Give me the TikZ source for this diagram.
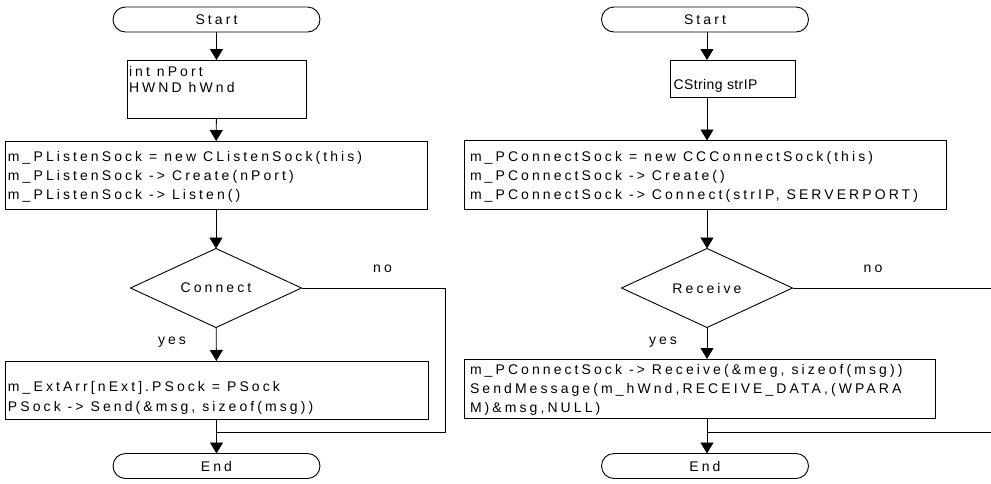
\documentclass[tikz,border=0pt]{standalone}
\usepackage{fontspec}
\setmainfont{Liberation Sans}[LetterSpace=22]
\newfontfamily\tightfont{Liberation Sans}[LetterSpace=3]
\usetikzlibrary{arrows.meta,shapes.geometric}

\tikzset{
  every node/.style={inner sep=0pt, outer sep=0pt},
  flow/.style={line width=0.9pt, draw=black},
  arr/.style={flow, -{Triangle[width=13pt,length=11pt]}},
  term/.style={flow, rectangle, rounded corners=12.5pt, minimum width=207pt, minimum height=25pt},
  procbox/.style={flow, rectangle},
  decision/.style={flow, diamond, aspect=2.18, minimum width=171pt, minimum height=79pt},
  code/.style={anchor=north west, align=left, font=\fontsize{14pt}{19pt}\selectfont},
  lbl/.style={font=\fontsize{14pt}{16pt}\selectfont}
}

\begin{document}
\begin{tikzpicture}[x=1pt,y=-1pt]
\useasboundingbox (0,0) rectangle (991,483);

% ---------- server side ----------
\node[term, lbl] (sStart) at (216.5,19.5) {Start};
\node[procbox, minimum width=179pt, minimum height=58pt] (sVars) at (216.5,89) {};
\node[code, font=\fontsize{14pt}{16pt}\selectfont] (sVarsTxt) at (129,66) {int nPort\\HWND hWnd};
\node[procbox, minimum width=422pt, minimum height=68pt] (sInit) at (216,175) {};
\node[code] (sInitTxt) at (8,151) {m\_PListenSock = new CListenSock(this)\\m\_PListenSock -> Create(nPort)\\m\_PListenSock -> Listen()};
\node[decision, lbl] (sTest) at (216,288) {Connect};
\node[procbox, minimum width=423pt, minimum height=58pt] (sSend) at (216.5,390) {};
\node[code, font=\fontsize{14pt}{20pt}\selectfont] (sSendTxt) at (8,381.5) {m\_ExtArr[nExt].PSock = PSock\\PSock -> Send(\&msg, sizeof(msg))};
\node[term, lbl] (sEnd) at (216.5,466) {End};

\node[lbl] (sNo) at (382.5,269) {no};
\node[lbl] (sYes) at (172,342) {yes};

\coordinate (sNoCorner) at (445,288);
\coordinate (sNoBottom) at (445,432);
\coordinate (sJoin) at (216.5,432);

\draw[arr] (sStart) -- (sVars);
\draw[arr] (sVars) -- (sInit);
\draw[arr] (sInit) -- (sTest);
\draw[arr] (sTest) -- (sSend);
\draw[arr] (sSend) -- (sEnd);
\draw[flow] (sTest.east) -- (sNoCorner) -- (sNoBottom) -- (sJoin);

% ---------- client side ----------
\node[term, lbl] (cStart) at (705,19.5) {Start};
\node[procbox, minimum width=125pt, minimum height=37pt] (cVars) at (732.5,78.5) {};
\node[code, font=\fontsize{14pt}{19pt}\tightfont] (cVarsTxt) at (673.5,79.5) {CString strIP};
\node[procbox, minimum width=482pt, minimum height=69pt] (cInit) at (705,175) {};
\node[code] (cInitTxt) at (470,151) {m\_PConnectSock = new CCConnectSock(this)\\m\_PConnectSock -> Create()\\m\_PConnectSock -> Connect(strIP, SERVERPORT)};
\node[decision, lbl] (cTest) at (707,288) {Receive};
\node[procbox, minimum width=471pt, minimum height=59pt] (cRecv) at (699.5,388.5) {};
\node[code] (cRecvTxt) at (470,364.5) {m\_PConnectSock -> Receive(\&meg, sizeof(msg))\\SendMessage(m\_hWnd,RECEIVE\_DATA,(WPARA\\M)\&msg,NULL)};
\node[term, lbl] (cEnd) at (705,466) {End};

\node[lbl] (cNo) at (873,269) {no};
\node[lbl] (cYes) at (663,342) {yes};

\coordinate (cNoEdge) at (991,288);
\coordinate (cJoinEdge) at (991,432);
\coordinate (cJoin) at (707,432);

\draw[arr] (cStart.south -| cTest) -- (cVars.north -| cTest);
\draw[arr] (cVars.south -| cTest) -- (cInit.north -| cTest);
\draw[arr] (cInit.south -| cTest) -- (cTest.north);
\draw[arr] (cTest.south) -- (cRecv.north -| cTest);
\draw[arr] (cRecv.south -| cTest) -- (cEnd.north -| cTest);
\draw[flow] (cTest.east) -- (cNoEdge);
\draw[flow] (cJoinEdge) -- (cJoin);
\end{tikzpicture}
\end{document}
